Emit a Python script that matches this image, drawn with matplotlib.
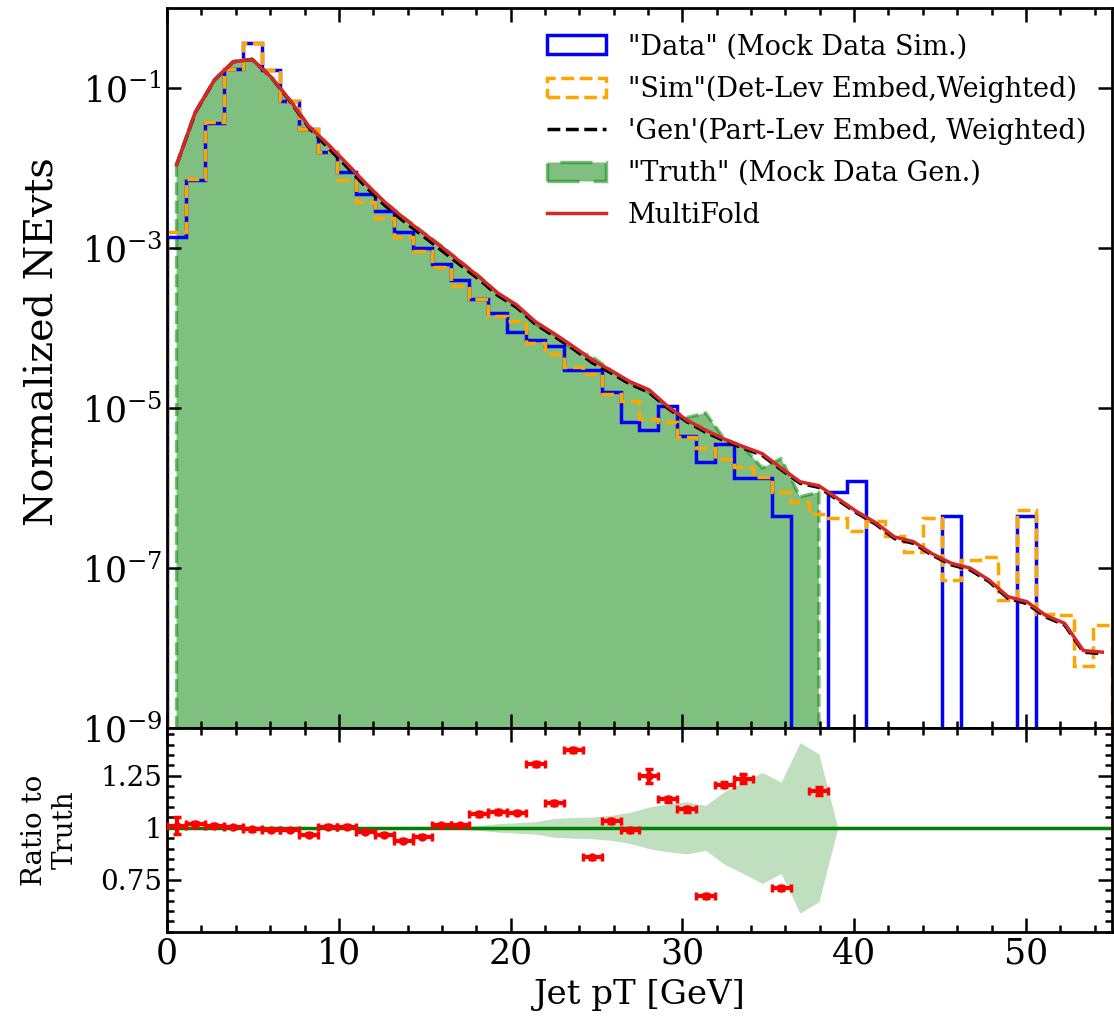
import numpy as np
import matplotlib
matplotlib.use("Agg")
import matplotlib.pyplot as plt
from matplotlib import ticker

plt.rcParams["font.family"] = "DejaVu Serif"
plt.rcParams["mathtext.fontset"] = "dejavuserif"

# 50 bins of 1.1 GeV between 0 and 55 GeV
bin_edges = np.linspace(0, 55, 51)
bin_centers = 0.5 * (bin_edges[1:] + bin_edges[:-1])

# "Data" (Mock Data Sim.) - detector level
data_vals = [1.36e-3, 7.2e-3, 3.7e-2, 0.176, 0.369, 0.17, 6.95e-2, 3.13e-2, 1.6e-2, 9.0e-3,
             4.82e-3, 2.88e-3, 1.58e-3, 1.0e-3, 6.3e-4, 4.0e-4, 2.34e-4, 1.55e-4, 8.9e-5, 7.2e-5,
             6.0e-5, 3.0e-5, 3.0e-5, 1.58e-5, 6.8e-6, 5.3e-6, 1.05e-5, 4.5e-6, 2.1e-6, 3.55e-6,
             1.32e-6, 1.32e-6, 4.5e-7, 0, 0, 8.9e-7, 1.23e-6, 0, 0, 0,
             0, 4.5e-7, 0, 0, 0, 4.5e-7, 0, 0, 0, 0]

# "Sim" (Det-Lev Embed, Weighted)
sim_vals = [1.58e-3, 7.4e-3, 3.8e-2, 0.176, 0.369, 0.17, 6.95e-2, 3.13e-2, 1.58e-2, 7.1e-3,
            3.8e-3, 2.4e-3, 1.38e-3, 9.1e-4, 5.75e-4, 3.4e-4, 2.34e-4, 1.41e-4, 1.23e-4, 6.6e-5,
            4.7e-5, 3.3e-5, 2.66e-5, 1.51e-5, 1.23e-5, 7.4e-6, 6.8e-6, 4.4e-6, 3.2e-6, 2.3e-6,
            1.86e-6, 1.38e-6, 8.9e-7, 6.8e-7, 4.8e-7, 4.2e-7, 2.95e-7, 3.9e-7, 2.5e-7, 1.58e-7,
            4.2e-7, 7.1e-8, 1.26e-7, 1.38e-7, 4.0e-8, 5.3e-7, 2.7e-8, 2.57e-8, 5.9e-9, 1.95e-8]

# 'Gen' (Part-Lev Embed, Weighted)
gen_vals = [1.1e-2, 5.0e-2, 0.126, 0.214, 0.229, 0.138, 6.9e-2, 3.24e-2, 1.82e-2, 1.05e-2,
            5.9e-3, 3.47e-3, 2.19e-3, 1.45e-3, 9.5e-4, 6.2e-4, 4.1e-4, 2.57e-4, 1.82e-4, 1.12e-4,
            7.9e-5, 5.5e-5, 3.7e-5, 2.75e-5, 2.0e-5, 1.58e-5, 1.0e-5, 6.8e-6, 5.0e-6, 3.9e-6,
            3.16e-6, 2.57e-6, 1.7e-6, 1.15e-6, 1.02e-6, 7.1e-7, 4.9e-7, 3.55e-7, 2.34e-7, 2.04e-7,
            1.45e-7, 1.1e-7, 9.5e-8, 6.8e-8, 4.2e-8, 3.6e-8, 2.45e-8, 1.95e-8, 8.9e-9, 8.5e-9]

# "Truth" (Mock Data Gen.) - first 35 bins
truth_vals = [1.1e-2, 5.0e-2, 0.126, 0.214, 0.229, 0.138, 7.1e-2, 3.4e-2, 2.0e-2, 1.15e-2,
              6.5e-3, 3.8e-3, 2.45e-3, 1.62e-3, 1.07e-3, 6.9e-4, 4.5e-4, 2.75e-4, 1.9e-4, 1.12e-4,
              8.3e-5, 5.4e-5, 4.4e-5, 2.95e-5, 2.1e-5, 1.58e-5, 1.02e-5, 7.6e-6, 8.7e-6, 4.1e-6,
              3.3e-6, 1.78e-6, 2.34e-6, 7.8e-7, 8.9e-7]

# MultiFold unfolded result
multifold_vals = [1.1e-2, 5.06e-2, 0.126, 0.214, 0.229, 0.138, 7.1e-2, 3.35e-2, 2.0e-2, 1.15e-2,
                  6.5e-3, 3.8e-3, 2.4e-3, 1.58e-3, 1.05e-3, 6.8e-4, 4.4e-4, 2.75e-4, 1.95e-4, 1.2e-4,
                  8.5e-5, 5.9e-5, 4.0e-5, 2.95e-5, 2.14e-5, 1.7e-5, 1.05e-5, 7.1e-6, 5.3e-6, 4.1e-6,
                  3.3e-6, 2.7e-6, 1.78e-6, 1.2e-6, 1.07e-6, 7.4e-7, 5.1e-7, 3.7e-7, 2.45e-7, 2.14e-7,
                  1.51e-7, 1.15e-7, 1.0e-7, 7.1e-8, 4.4e-8, 3.8e-8, 2.57e-8, 2.04e-8, 9.3e-9, 8.9e-9]

# ratio panel (bins 0..34, None = no point)
ratio_vals = [1.01, 1.018, 1.01, 1.003, 0.993, 0.989, 0.989, 0.967, 1.005, 1.005,
              0.982, 0.967, 0.938, 0.958, 1.013, 1.013, 1.067, 1.076, 1.073, 1.306,
              1.119, 1.374, 0.859, 1.033, 0.99, 1.25, 1.137, 1.089, 0.672, 1.208,
              1.237, None, 0.712, None, 1.176]
ratio_errs = [0.04, 0.012, 0.008, 0.006, 0.006, 0.006, 0.006, 0.008, 0.008, 0.008,
              0.008, 0.008, 0.008, 0.008, 0.008, 0.008, 0.008, 0.008, 0.008, 0.01,
              0.01, 0.01, 0.008, 0.01, 0.01, 0.035, 0.012, 0.012, 0.01, 0.012,
              0.022, 0, 0.01, 0, 0.02]
# truth uncertainty band half-width (bins 0..35)
band_halfwidth = [0.004, 0.004, 0.004, 0.004, 0.004, 0.004, 0.004, 0.004, 0.004, 0.004,
                  0.004, 0.005, 0.005, 0.005, 0.006, 0.006, 0.012, 0.02, 0.025, 0.03,
                  0.045, 0.05, 0.052, 0.06, 0.075, 0.1, 0.115, 0.125, 0.108, 0.175,
                  0.22, 0.267, 0.22, 0.41, 0.355, 0.0]

fig = plt.figure(figsize=(11.14, 10.24), dpi=100)
ax = fig.add_axes([0.150, 0.289, 0.848, 0.703])
ax2 = fig.add_axes([0.150, 0.090, 0.848, 0.199], sharex=ax)

# main panel
truth_x = bin_centers[:len(truth_vals)]
h_truth = ax.fill_between(truth_x, truth_vals, 1e-12, color="green", alpha=0.5,
                          linestyle="--", linewidth=2.5, label='"Truth" (Mock Data Gen.)')
_, _, h_data = ax.hist(bin_centers, bins=bin_edges, weights=data_vals, histtype="step",
                       color="blue", linewidth=2.5, label='"Data" (Mock Data Sim.)')
_, _, h_sim = ax.hist(bin_centers, bins=bin_edges, weights=sim_vals, histtype="step",
                      color="orange", linewidth=2.5, linestyle="--",
                      label='"Sim"(Det-Lev Embed,Weighted)')
h_gen, = ax.plot(bin_centers, gen_vals, color="black", linestyle="--", linewidth=2.5,
                 label="'Gen'(Part-Lev Embed, Weighted)")
h_mf, = ax.plot(bin_centers, multifold_vals, color="tab:red", linewidth=2.5, label="MultiFold")

ax.set_yscale("log")
ax.set_ylim(1e-9, 1)
ax.set_xlim(0, 55)
ax.yaxis.set_major_locator(ticker.FixedLocator([1e-9, 1e-7, 1e-5, 1e-3, 1e-1]))
ax.yaxis.set_minor_locator(ticker.NullLocator())
ax.set_ylabel("Normalized NEvts", fontsize=28.5)
ax.yaxis.set_label_coords(-0.112, 0.537)
ax.legend(handles=[h_data[0], h_sim[0], h_gen, h_truth, h_mf], loc="upper left",
          bbox_to_anchor=(0.402, 0.965), frameon=False, fontsize=19.5,
          handlelength=2.2, labelspacing=0.55, borderaxespad=0, borderpad=0,
          handletextpad=0.8)
ax.tick_params(labelbottom=False)

# ratio panel
ax2.fill_between(bin_centers[:len(band_halfwidth)],
                 1 - np.array(band_halfwidth), 1 + np.array(band_halfwidth),
                 color="green", alpha=0.25, linewidth=0)
ax2.axhline(1, color="green", linewidth=2.5)
rx = [bin_centers[i] for i, v in enumerate(ratio_vals) if v is not None]
ry = [v for v in ratio_vals if v is not None]
re = [ratio_errs[i] for i, v in enumerate(ratio_vals) if v is not None]
ax2.errorbar(rx, ry, xerr=0.55, yerr=re, fmt="o", color="red", ms=5,
             elinewidth=3, capsize=3, capthick=2.5, zorder=5)
ax2.set_ylim(0.5, 1.48)
ax2.yaxis.set_major_locator(ticker.FixedLocator([0.75, 1.0, 1.25]))
ax2.yaxis.set_minor_locator(ticker.MultipleLocator(0.05))
ax2.yaxis.set_major_formatter(ticker.FuncFormatter(lambda v, p: f"{v:g}"))
ax2.set_ylabel("Ratio to\nTruth", fontsize=20)
ax2.yaxis.set_label_coords(-0.093, 0.5)
ax2.set_xlabel("Jet pT [GeV]", fontsize=24.5, labelpad=6)
ax2.xaxis.set_major_locator(ticker.MultipleLocator(10))
ax2.xaxis.set_minor_locator(ticker.MultipleLocator(2))

for a in (ax, ax2):
    a.tick_params(which="both", direction="in", top=True, right=True, width=1.8)
    a.tick_params(which="major", length=10)
    a.tick_params(which="minor", length=5)
    for s in a.spines.values():
        s.set_linewidth(2)
ax.tick_params(axis="both", which="major", labelsize=25)
ax2.tick_params(axis="x", which="major", labelsize=25)
ax2.tick_params(axis="y", which="major", labelsize=20)

fig.savefig("out.png", dpi=100)
